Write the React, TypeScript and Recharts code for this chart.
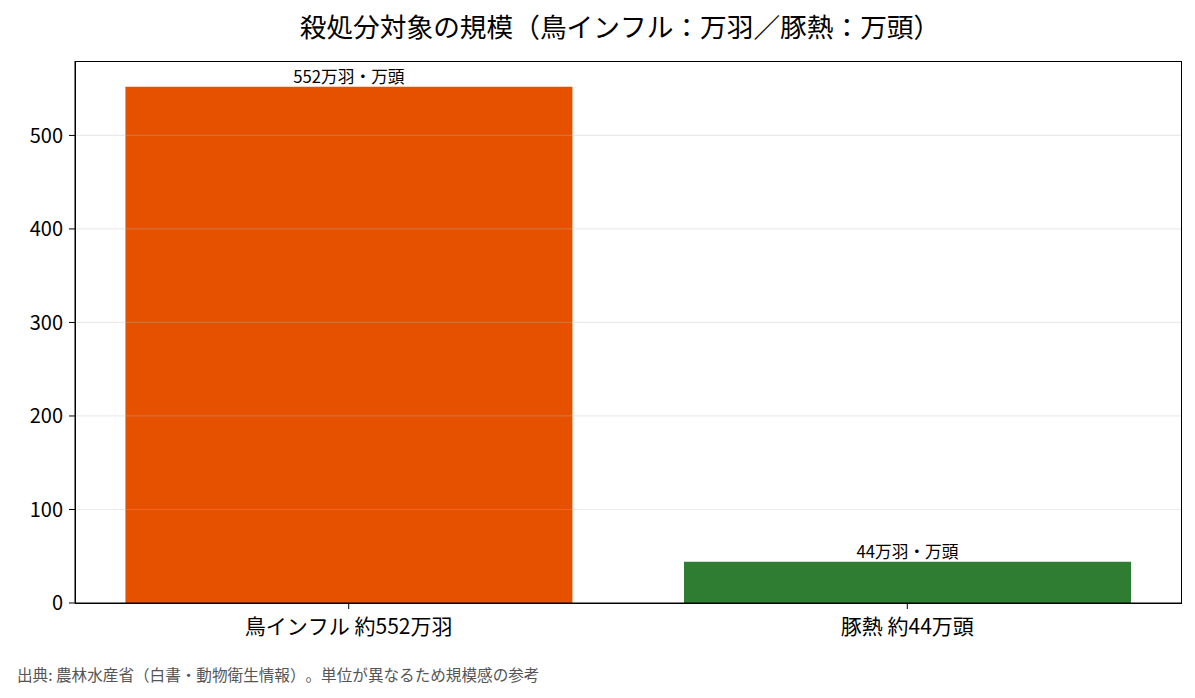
import React from "react";
import { BarChart, Bar, XAxis, YAxis, ReferenceLine, LabelList, Cell } from "recharts";

const categories = ["鳥インフル 約552万羽", "豚熱 約44万頭"];
const values = [552, 44];
const barLabels = ["552万羽・万頭", "44万羽・万頭"];
const colors = ["#E65100", "#2E7D32"];
const yTicks = [0, 100, 200, 300, 400, 500];

const data = categories.map((c, i) => ({ x: i, name: c, value: values[i], label: barLabels[i] }));

const FONT = "'Noto Sans CJK JP', 'Noto Sans', sans-serif";
const noKern: any = { fontKerning: "none", fontFeatureSettings: "'kern' 0, 'palt' 0, 'halt' 0, 'chws' 0", textSpacingTrim: "space-all" };

export default function App() {
  return (
    <div style={{ position: "absolute", left: 0, top: 0, width: 1195, height: 698, background: "#fff", fontFamily: FONT, ...noKern }}>
      <div style={{ position: "absolute", left: 0, top: 8, width: 1240, textAlign: "center", fontSize: 26.7, lineHeight: "36px", color: "#000", whiteSpace: "nowrap" }}>
        殺処分対象の規模（鳥インフル：万羽／豚熱：万頭）
      </div>
      <BarChart
        width={1195}
        height={698}
        data={data}
        margin={{ top: 61, right: 14, bottom: 55, left: 15 }}
        style={{ position: "absolute", left: 0, top: 0, ...noKern }}
      >
        <XAxis
          dataKey="x"
          type="number"
          domain={[-0.49, 1.49]}
          ticks={[0, 1]}
          tickFormatter={(v: number) => categories[v]}
          height={40}
          tickSize={6}
          tickMargin={10}
          axisLine={{ stroke: "#000" }}
          tickLine={{ stroke: "#000" }}
          tick={{ fill: "#000", fontSize: 21, fontFamily: FONT, style: noKern }}
          allowDataOverflow
        />
        <YAxis
          type="number"
          domain={[0, 579.6]}
          ticks={yTicks}
          width={60}
          tickSize={6}
          tickMargin={6}
          axisLine={{ stroke: "#000" }}
          tickLine={{ stroke: "#000" }}
          tick={{ fill: "#000", fontSize: 20, fontFamily: FONT }}
          allowDataOverflow
        />
        <Bar dataKey="value" barSize={447} isAnimationActive={false}>
          {data.map((d, i) => (
            <Cell key={i} fill={colors[i]} />
          ))}
          <LabelList dataKey="label" position="top" offset={4} fill="#000" fontSize={16.7} fontFamily={FONT} />
        </Bar>
        {yTicks.slice(1).map((t) => (
          <ReferenceLine key={t} y={t} stroke="#bababa" strokeOpacity={0.3} strokeWidth={1.2} />
        ))}
      </BarChart>
      <div style={{ position: "absolute", left: 75, top: 61, width: 1107, height: 543, border: "1.2px solid #000", boxSizing: "border-box", pointerEvents: "none" }} />
      <div style={{ position: "absolute", left: 17, top: 664, fontSize: 15.6, lineHeight: "20px", color: "#555", whiteSpace: "nowrap" }}>
        出典: 農林水産省（白書・動物衛生情報）。単位が異なるため規模感の参考
      </div>
    </div>
  );
}
